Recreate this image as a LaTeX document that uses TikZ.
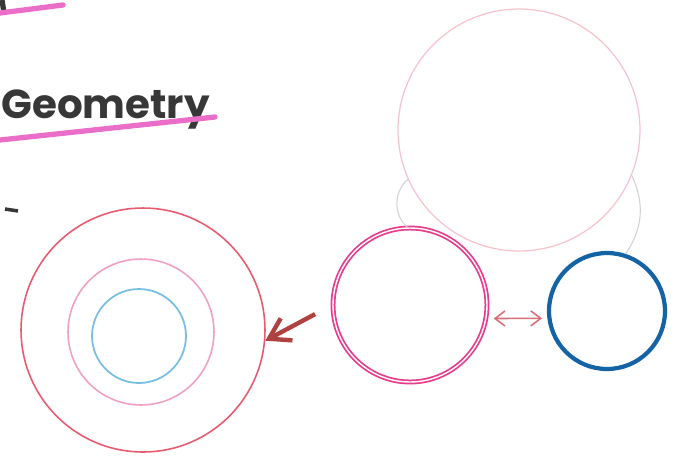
\documentclass[tikz,border=0pt]{standalone}
\usepackage{fontspec}
\usepackage{tikz}
\usetikzlibrary{arrows.meta}
\newfontfamily\handfont{Poppins}
\definecolor{ink}{RGB}{55,55,55}
\definecolor{marker}{RGB}{234,110,200}
\definecolor{outerred}{RGB}{232,90,112}
\definecolor{midpink}{RGB}{240,160,195}
\definecolor{skyblue}{RGB}{120,190,225}
\definecolor{hotpink}{RGB}{232,60,140}
\definecolor{deepblue}{RGB}{20,100,165}
\definecolor{palepink}{RGB}{246,195,205}
\definecolor{arrowred}{RGB}{175,65,65}
\definecolor{arrowpink}{RGB}{215,110,120}

\begin{document}
\begin{tikzpicture}[x=0.02cm, y=-0.02cm,
  ring/.style = {draw, circle, inner sep=0pt},
  hilite/.style = {draw=marker, line width=3pt, line cap=round},
  faint/.style = {draw=gray!35, line width=0.6pt}]
  \useasboundingbox (0,0) rectangle (684,461);
  % title scraps
  \draw[ink, line width=3pt] (2,0) -- (4,13);
  \draw[hilite] (0,13) -- (63,5);
  \node[anchor=base west, inner sep=0pt, text=ink, font=\handfont\bfseries\fontsize{23}{23}\selectfont] (title) at (1,118) {Geometry};
  \draw[hilite] (0,140) -- (215,117);
  \draw[ink, line width=2pt] (5,209) -- (18,211);
  % circles
  \node[ring, draw=outerred, line width=0.9pt, minimum size=4.88cm] (outer) at (143,330) {};
  \node[ring, draw=midpink, line width=0.9pt, minimum size=2.92cm] (middle) at (141,332) {};
  \node[ring, draw=skyblue, line width=1pt, minimum size=1.88cm] (inner) at (139,336) {};
  \node[ring, draw=hotpink, line width=1pt, double, double distance=0.8pt, minimum size=3.08cm] (mid) at (410,305) {};
  \node[ring, draw=deepblue, line width=2.4pt, minimum size=2.32cm] (right) at (607,311) {};
  \node[ring, draw=palepink, line width=0.7pt, minimum size=4.84cm] (top) at (519,130) {};
  % connectors
  \draw[arrowred, line width=2.5pt, -{Straight Barb[length=4mm, width=5mm]}, shorten <=11pt] (mid.west) -- (outer.-5);
  \draw[arrowpink, line width=0.9pt, {Straight Barb[length=2mm, width=3mm]}-{Straight Barb[length=2mm, width=3mm]}, shorten <=4pt, shorten >=3pt] (mid.-10) -- (right.187);
  \draw[faint] (top.204) to[bend right=50] (mid.92);
  \draw[faint] (top.-22) to[bend left=30] (right.72);
\end{tikzpicture}
\end{document}
